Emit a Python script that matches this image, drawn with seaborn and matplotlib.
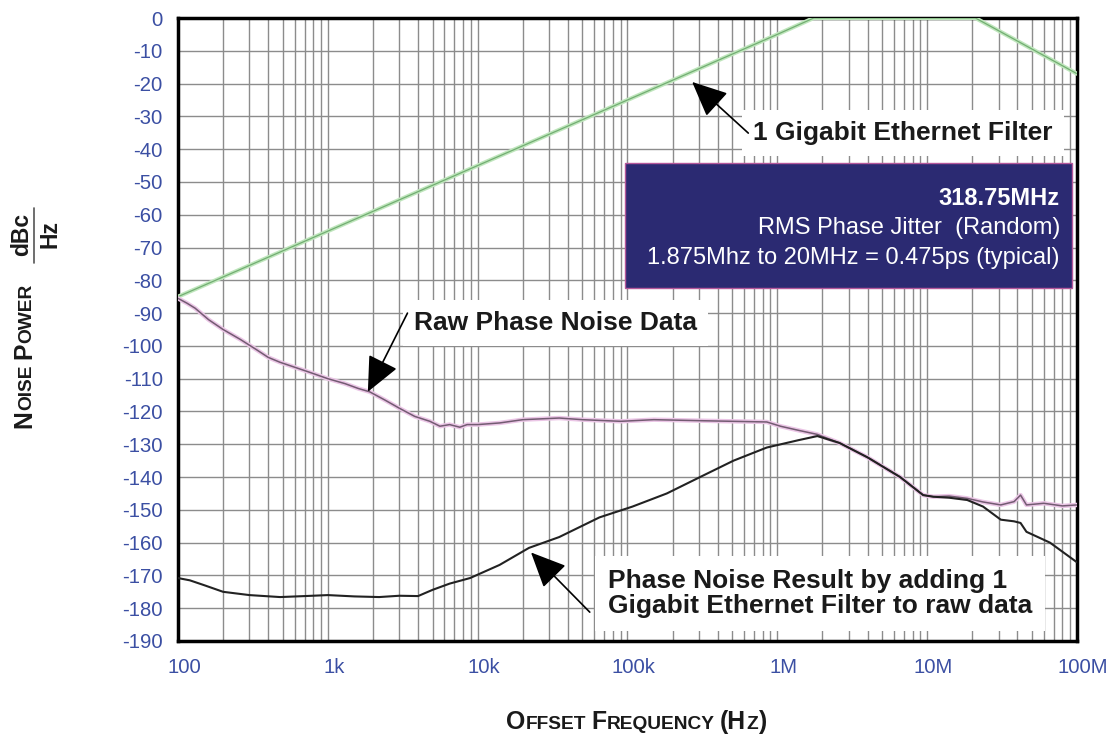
import matplotlib
matplotlib.use("Agg")
import matplotlib.pyplot as plt
import matplotlib.transforms as mtransforms
import numpy as np
import pandas as pd
import seaborn as sns
from matplotlib import font_manager
from matplotlib.patches import Rectangle
from matplotlib.ticker import FixedLocator, LogLocator, NullFormatter

# raw phase noise (pink trace)
raw_freq = [100, 115, 130, 160, 200, 260, 330, 400, 480, 600, 750, 1000, 1300, 1600,
            1900, 2400, 3000, 3800, 4800, 5600, 6500, 7600, 8500, 10e3, 14e3, 20e3,
            35e3, 50e3, 90e3, 150e3, 300e3, 500e3, 850e3, 1.05e6, 1.4e6, 1.85e6, 2.6e6,
            4e6, 6.6e6, 9.4e6, 11e6, 14e6, 18.5e6, 23.6e6, 31e6, 38e6, 42e6, 46e6, 60e6,
            80e6, 100e6]
raw_db = [-85.5, -87, -88.5, -92, -95, -98, -101, -103.5, -105, -106.5, -108, -110,
          -111.5, -113, -114, -116.5, -119, -121.5, -123, -124.5, -124, -124.8, -124,
          -124, -123.5, -122.5, -122, -122.5, -123, -122.5, -122.8, -123, -123.2, -124.5,
          -125.8, -127, -129.6, -134, -140, -145.5, -146, -145.8, -146.5, -147.6, -148.5,
          -147.5, -145.5, -148.5, -148, -148.8, -148.5]

# 1 Gigabit Ethernet filter (green trace)
filt_freq = [100, 1e3, 10e3, 100e3, 1e6, 1.75e6, 21e6, 100e6]
filt_db = [-85, -65, -45, -25, -5, 0, 0, -17]

# filtered result (black trace)
res_freq = [100, 120, 150, 200, 300, 480, 700, 1000, 1500, 2200, 3000, 4000, 5000, 6500,
            8900, 14e3, 22e3, 35e3, 65e3, 108e3, 183e3, 305e3, 510e3, 850e3, 1.4e6,
            1.85e6, 2.6e6, 4e6, 6.6e6, 9.4e6, 11e6, 14e6, 18.5e6, 23.6e6, 31e6, 38e6,
            42e6, 46e6, 66e6, 100e6]
res_db = [-170.8, -171.5, -173, -175, -176, -176.6, -176.3, -176, -176.4, -176.6, -176.2,
          -176.3, -174.4, -172.5, -170.8, -166.8, -161.6, -158.3, -152.3, -149, -145,
          -140, -135, -131, -128.7, -127.5, -129.6, -134, -140, -145.5, -146, -146.3,
          -147, -149, -153, -153.5, -154, -156.7, -160, -166]

x_ticks = [1e2, 1e3, 1e4, 1e5, 1e6, 1e7, 1e8]
x_labels = ["100", "1k", "10k", "100k", "1M", "10M", "100M"]
y_ticks = list(range(0, -191, -10))
y_labels = [str(v) for v in y_ticks]

sns.set_theme(style="white")
names = {f.name for f in font_manager.fontManager.ttflist}
FONT = "Liberation Sans"
NARROW = "Liberation Sans Narrow" if "Liberation Sans Narrow" in names else FONT
plt.rcParams["font.family"] = [FONT, "DejaVu Sans"]

fig = plt.figure(figsize=(11.15, 7.38), dpi=100)
ax = fig.add_axes([178 / 1115, 97 / 738, 899 / 1115, 623 / 738])
ax.set_xscale("log")

raw = pd.DataFrame({"f": raw_freq, "db": raw_db})
filt = pd.DataFrame({"f": filt_freq, "db": filt_db})
res = pd.DataFrame({"f": res_freq, "db": res_db})

sns.lineplot(data=filt, x="f", y="db", ax=ax, color="#bfe6bc", lw=3, zorder=3)
sns.lineplot(data=filt, x="f", y="db", ax=ax, color="#72ad72", lw=0.9, zorder=3)
sns.lineplot(data=raw, x="f", y="db", ax=ax, color="#ebc6e6", lw=3.2, zorder=4)
sns.lineplot(data=raw, x="f", y="db", ax=ax, color="#735b72", lw=1.1, zorder=4)
sns.lineplot(data=res, x="f", y="db", ax=ax, color="#222222", lw=1.5, zorder=5)

ax.set_xlim(100, 1e8)
ax.set_ylim(-190, 0)
ax.xaxis.set_major_locator(FixedLocator(x_ticks))
ax.xaxis.set_minor_locator(LogLocator(base=10, subs=np.arange(2, 10)))
ax.xaxis.set_minor_formatter(NullFormatter())
ax.set_xticks(x_ticks, x_labels)
ax.set_yticks(y_ticks, y_labels)
ax.tick_params(axis="both", length=0, labelsize=14.6, labelcolor="#3b4fa3")
ax.tick_params(axis="x", pad=12)
ax.tick_params(axis="y", pad=11)
shift = mtransforms.ScaledTranslation(6 / 100, 0, fig.dpi_scale_trans)
for lab in ax.get_xticklabels():
    lab.set_transform(lab.get_transform() + shift)
ax.grid(which="both", axis="x", color="#8c8c8c", lw=1.0)
ax.grid(which="major", axis="y", color="#8c8c8c", lw=1.0)
ax.set_xlabel("")
ax.set_ylabel("")
for s in ax.spines.values():
    s.set_color("black")
    s.set_linewidth(2.5)

arrow = dict(arrowstyle="-|>,head_length=1.1,head_width=0.5", color="black", lw=1.2,
             mutation_scale=20, shrinkA=0, shrinkB=0)
box = dict(boxstyle="square,pad=0.42", fc="white", ec="none")
label_kw = dict(fontsize=19, weight="bold", color="#1a1a1a", ha="left", va="center",
                zorder=6)

ax.text(6.9e5, -35, "1 Gigabit Ethernet Filter", bbox=box, **label_kw)
ax.annotate("", xy=(2.7e5, -19.5), xytext=(6.4e5, -35.1), arrowprops=arrow, zorder=7)

ax.text(3.75e3, -93, "Raw Phase Noise Data", bbox=box, **label_kw)
ax.annotate("", xy=(1.85e3, -114), xytext=(3.4e3, -90), arrowprops=arrow, zorder=7)

ax.text(7.4e4, -175.5, "Phase Noise Result by adding 1\nGigabit Ethernet Filter to raw data",
        linespacing=1.05, bbox=dict(boxstyle="square,pad=0.5", fc="white", ec="none"),
        **label_kw)
ax.annotate("", xy=(2.27e4, -163), xytext=(5.6e4, -181.2), arrowprops=arrow, zorder=7)

ax.add_patch(Rectangle((0.497, 0.5666), 0.4974, 0.2004, transform=ax.transAxes,
                       fc="#2b2a72", ec="#b5589b", lw=1.0, zorder=7))
ax.text(0.981, 0.711, "318.75MHz", transform=ax.transAxes, ha="right", va="center",
        fontsize=17, weight="bold", color="white", zorder=8)
ax.text(0.981, 0.663, "RMS Phase Jitter  (Random)", transform=ax.transAxes, ha="right",
        va="center", fontsize=17, color="white", zorder=8)
ax.text(0.981, 0.615, "1.875Mhz to 20MHz = 0.475ps (typical)", transform=ax.transAxes,
        ha="right", va="center", fontsize=17, color="white", zorder=8)

# small-caps axis titles, laid out run by run
fig.canvas.draw()
renderer = fig.canvas.get_renderer()


def run_width(txt, size):
    t = fig.text(0, 0, txt, fontsize=size, weight="bold", family=NARROW)
    w = t.get_window_extent(renderer).width
    t.remove()
    return w


def draw_runs(runs, x0, y0, vertical=False, center=True):
    widths = []
    for txt, size in runs:
        if txt == " ":
            widths.append(run_width("N N", size) - run_width("NN", size))
        else:
            widths.append(run_width(txt, size))
    total = sum(widths)
    pos = (y0 if vertical else x0) - (total / 2 if center else 0)
    for (txt, size), w in zip(runs, widths):
        if txt != " ":
            if vertical:
                fig.text(x0 / 1115, (738 - pos) / 738, txt, fontsize=size, weight="bold",
                         family=NARROW, color="#1a1a1a", rotation=90,
                         rotation_mode="anchor", ha="left", va="baseline")
            else:
                fig.text(pos / 1115, (738 - y0) / 738, txt, fontsize=size, weight="bold",
                         family=NARROW, color="#1a1a1a", ha="left", va="baseline")
        pos += -w if vertical else w


BIG, SMALL = 17.8, 13.8
draw_runs([("O", BIG), ("FFSET", SMALL), (" ", SMALL), ("F", BIG), ("REQUENCY", SMALL),
           (" ", SMALL), ("(H", BIG), ("Z", SMALL), (")", BIG)], 636, 729)
draw_runs([("N", BIG), ("OISE", SMALL), (" ", SMALL), ("P", BIG), ("OWER", SMALL)],
          31, 428, vertical=True, center=False)

fig.text(28 / 1115, (738 - 234) / 738, "dBc", fontsize=16.5, weight="bold", family=NARROW,
         color="#1a1a1a", rotation=90, rotation_mode="anchor", ha="center", va="baseline")
fig.text(57 / 1115, (738 - 234) / 738, "Hz", fontsize=16.5, weight="bold", family=NARROW,
         color="#1a1a1a", rotation=90, rotation_mode="anchor", ha="center", va="baseline")
fig.add_artist(plt.Line2D([33.5 / 1115, 33.5 / 1115], [(738 - 208) / 738, (738 - 263) / 738],
                          color="#555555", lw=1.2))

fig.savefig("out.png", dpi=100, facecolor="white")
